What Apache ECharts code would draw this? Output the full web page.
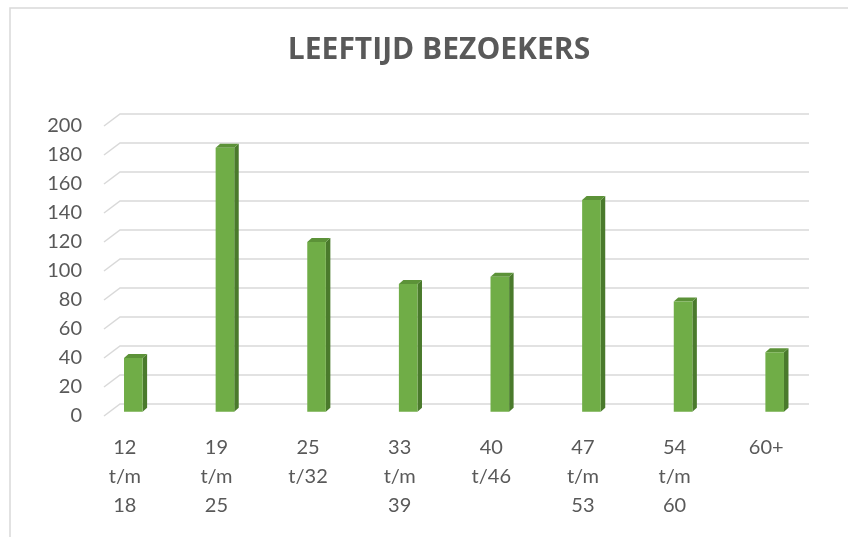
<!DOCTYPE html>
<html>
<head>
<meta charset="utf-8">
<script src="https://cdn.jsdelivr.net/npm/echarts@6/dist/echarts.min.js"></script>
<style>
html,body{margin:0;padding:0;background:#fff;}
#chart{width:848px;height:537px;}
</style>
</head>
<body>
<div id="chart"></div>
<script>
const categories = ["12 t/m 18", "19 t/m 25", "25 t/32", "33 t/m 39", "40 t/46", "47 t/m 53", "54 t/m 60", "60+"];
const visitors = [37, 182, 117, 88, 93, 146, 76, 41];
const yTicks = [0, 20, 40, 60, 80, 100, 120, 140, 160, 180, 200];
const titleText = "LEEFTIJD BEZOEKERS";

const FONT = "Lato, 'Open Sans', sans-serif";
const TITLE_FONT = "'Open Sans', Lato, sans-serif";
const TEXT = "#595959";
const GRID = "#d9d9d9";

const chart = echarts.init(document.getElementById('chart'), null, {renderer: 'canvas'});

function gridItem(params, api) {
  const v = api.value(1);
  const y = api.coord([api.value(0), v])[1];
  const cs = params.coordSys;
  const x0 = cs.x + 25;
  return {
    type: 'polyline',
    shape: {points: [[x0, y], [x0 + 16, y - 12], [cs.x + cs.width - 3, y - 12]]},
    style: {stroke: GRID, lineWidth: 1.5, fill: null}
  };
}

function barItem(params, api) {
  const top = api.coord([api.value(0), api.value(1)]);
  const base = api.coord([api.value(0), 0]);
  const w = 18.6, dx = 4.5, dy = -4;
  const shiftX = 8.5, shiftY = -4.3;
  const left = top[0] + shiftX - w / 2;
  const yTop = top[1] + shiftY;
  const yBot = base[1] + shiftY;
  return {
    type: 'group',
    children: [
      {type: 'polygon', shape: {points: [[left + w, yTop], [left + w + dx, yTop + dy], [left + w + dx, yBot + dy], [left + w, yBot]]},
       style: {fill: '#4a7a2c'}},
      {type: 'polygon', shape: {points: [[left, yTop], [left + dx, yTop + dy], [left + w + dx, yTop + dy], [left + w, yTop]]},
       style: {fill: '#5c9238'}},
      {type: 'rect', shape: {x: left, y: yTop, width: w, height: yBot - yTop},
       style: {fill: '#70ad47'}}
    ]
  };
}

chart.setOption({
  animation: false,
  backgroundColor: '#ffffff',
  title: {
    text: titleText,
    left: 434,
    textAlign: 'center',
    top: 30,
    textStyle: {fontFamily: TITLE_FONT, fontWeight: 'bold', fontSize: 30, color: TEXT}
  },
  graphic: [
    {type: 'polyline', shape: {points: [[10, 537], [10, 8], [848, 8]]},
     style: {stroke: GRID, lineWidth: 1.5, fill: null}, silent: true}
  ],
  grid: {left: 79, right: 36, top: 126, bottom: 121, containLabel: false},
  xAxis: {
    type: 'category',
    data: categories,
    axisLine: {show: false},
    axisTick: {show: false},
    splitLine: {show: false},
    axisLabel: {
      interval: 0,
      margin: 17,
      color: TEXT,
      fontFamily: FONT,
      fontSize: 20,
      lineHeight: 29,
      formatter: v => v.split(' ').join('\n')
    }
  },
  yAxis: {
    type: 'value',
    min: 0,
    max: 200,
    interval: 20,
    axisLine: {show: false},
    axisTick: {show: false},
    splitLine: {show: false},
    axisLabel: {margin: -3, color: TEXT, fontFamily: FONT, fontSize: 20}
  },
  series: [
    {
      type: 'custom',
      z: 1,
      silent: true,
      renderItem: gridItem,
      data: yTicks.map(v => [categories[0], v])
    },
    {
      type: 'custom',
      z: 2,
      renderItem: barItem,
      data: categories.map((c, i) => [c, visitors[i]])
    }
  ]
});
</script>
</body>
</html>
